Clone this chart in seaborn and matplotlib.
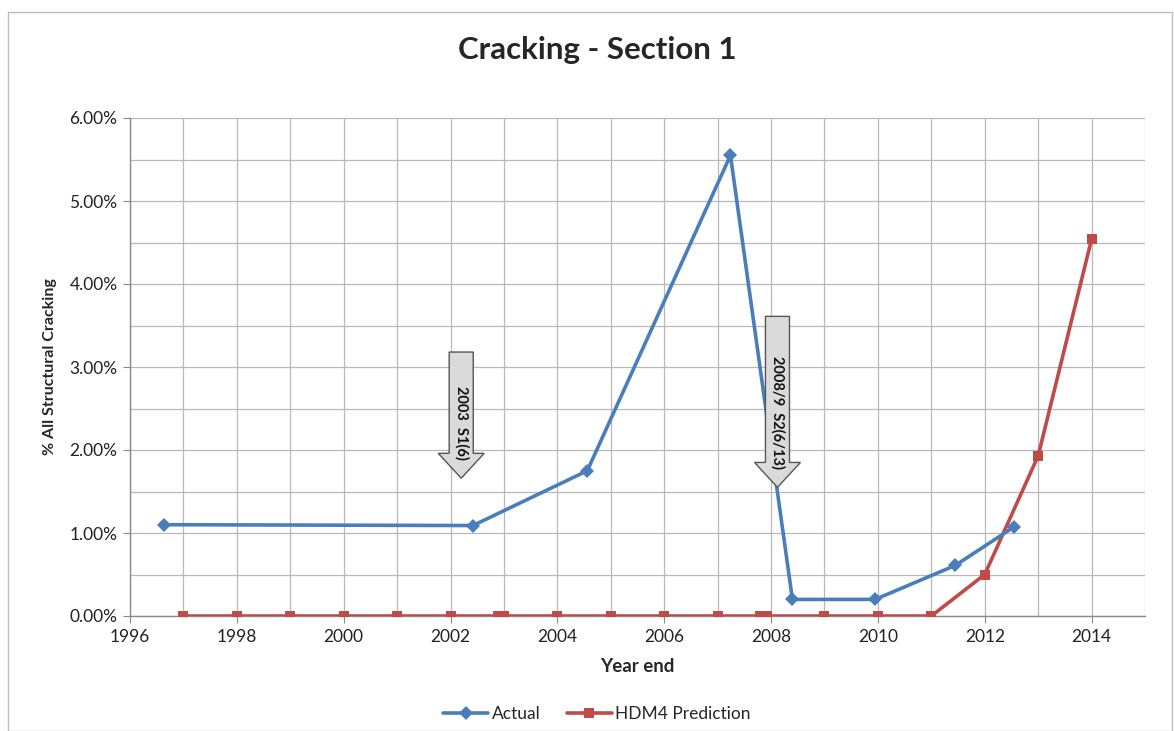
import matplotlib
matplotlib.use("Agg")
import matplotlib.pyplot as plt
import seaborn as sns
import numpy as np
import pandas as pd
from matplotlib.patches import Polygon
from matplotlib.ticker import MultipleLocator, FuncFormatter

# ---- data ----
actual_year = [1996.64, 2002.42, 2004.56, 2007.24, 2008.40, 2009.95, 2011.45, 2012.54]
actual_pct = [1.10, 1.09, 1.75, 5.55, 0.20, 0.20, 0.61, 1.07]

hdm4_year = [1997, 1998, 1999, 2000, 2001, 2002, 2002.88, 2003, 2004, 2005, 2006,
             2007, 2007.8, 2007.92, 2009, 2010, 2011, 2012, 2013, 2014]
hdm4_pct = [0, 0, 0, 0, 0, 0, 0, 0, 0, 0, 0,
            0, 0, 0, 0, 0, 0, 0.50, 1.93, 4.54]

arrow_labels = ["2003  S1(6)", "2008/9  S2(6/13)"]
arrow_x = [2002.2, 2008.12]
arrow_top = [3.18, 3.61]
arrow_tip = [1.66, 1.55]

title = "Cracking - Section 1"
xlabel = "Year end"
ylabel = "% All Structural Cracking"

sns.set_style("white")
plt.rcParams['font.family'] = ['Lato', 'DejaVu Sans']

fig = plt.figure(figsize=(11.74, 7.31), dpi=100)
ax = fig.add_axes([130/1174, 1-616/731, 1015/1174, 498/731])

df_a = pd.DataFrame({"year": actual_year, "pct": actual_pct})
df_h = pd.DataFrame({"year": hdm4_year, "pct": hdm4_pct})

blue = "#4a7ebb"
red = "#be4b48"
sns.lineplot(data=df_a, x="year", y="pct", ax=ax, color=blue, lw=2.6, marker="D",
             markersize=7.5, markeredgewidth=0, sort=False, label="Actual", zorder=4)
sns.lineplot(data=df_h, x="year", y="pct", ax=ax, color=red, lw=2.6, marker="s",
             markersize=6.5, markeredgewidth=0, sort=False, label="HDM4 Prediction", zorder=3)

ax.set_xlim(1996, 2015)
ax.set_ylim(0, 6)
ax.xaxis.set_major_locator(MultipleLocator(2))
ax.xaxis.set_minor_locator(MultipleLocator(1))
ax.yaxis.set_major_locator(MultipleLocator(1))
ax.yaxis.set_minor_locator(MultipleLocator(0.5))
ax.yaxis.set_major_formatter(FuncFormatter(lambda v, p: f"{v:.2f}%"))
ax.grid(True, which="both", color="#b8b8b8", lw=0.9)
ax.set_axisbelow(True)
for s in ["top", "right"]:
    ax.spines[s].set_visible(False)
for s in ["left", "bottom"]:
    ax.spines[s].set_color("#8a8a8a")
    ax.spines[s].set_linewidth(1)
ax.tick_params(which="major", length=5, color="#8a8a8a", labelsize=12.5, labelcolor="#222222",
               direction="out", bottom=True, left=True, pad=4)
ax.tick_params(which="minor", length=0)

fig.text(597/1174, 1-50/731, title, ha="center", va="center", fontsize=22.5, fontweight="bold")
ax.set_xlabel(xlabel, fontsize=13.5, fontweight="bold", labelpad=10)
ax.set_ylabel(ylabel, fontsize=11.5, fontweight="bold", labelpad=9)

# block arrows
for lbl, xc, yt, ytip in zip(arrow_labels, arrow_x, arrow_top, arrow_tip):
    sw, hw = 0.225, 0.43
    shaft_bot = ytip + 0.30
    pts = [(xc - sw, yt), (xc + sw, yt), (xc + sw, shaft_bot), (xc + hw, shaft_bot),
           (xc, ytip), (xc - hw, shaft_bot), (xc - sw, shaft_bot)]
    ax.add_patch(Polygon(pts, closed=True, facecolor="#dadada", edgecolor="#555555",
                         lw=1.0, zorder=6))
    ax.text(xc, ytip + 0.22, lbl, rotation=270, ha="center", va="bottom",
            fontsize=10.5, fontweight="bold", zorder=7, color="#111111")

leg = ax.legend(loc="upper center", bbox_to_anchor=(467/1015, -0.15), ncol=2, frameon=False,
                fontsize=12.5, handlelength=2.6, columnspacing=1.5, handletextpad=0.2)

fig.patches.append(plt.Rectangle((8/1174, 0), 1 - 8/1174 - 2/1174, 1 - 12/731,
                                 transform=fig.transFigure, fill=False,
                                 edgecolor="#bdbdbd", lw=1))

fig.savefig("out.png", dpi=100)
